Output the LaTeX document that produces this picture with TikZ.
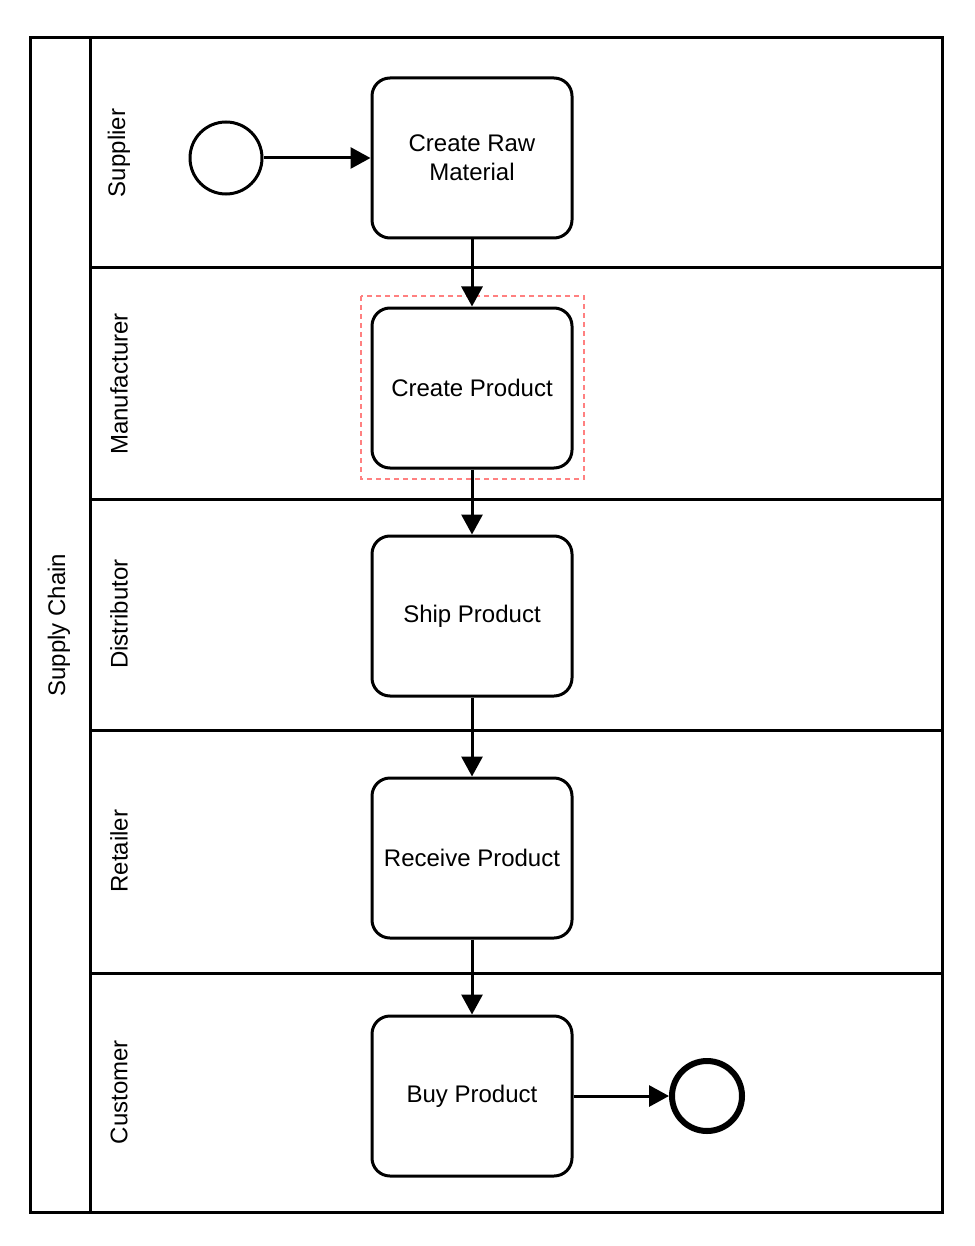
\documentclass[tikz,border=0pt]{standalone}
\usepackage{fontspec}
\setmainfont{Liberation Sans}
\usetikzlibrary{arrows.meta}
\definecolor{selred}{HTML}{FF8080}
\begin{document}
\begin{tikzpicture}[x=1pt,y=-1pt,
  every node/.style={font=\fontsize{24}{29}\selectfont},
  task/.style={draw,line width=3pt,rounded corners=18pt,minimum width=200pt,minimum height=160pt,align=center,inner sep=0pt},
  lanelabel/.style={rotate=90},
  flow/.style={line width=3pt,-{Triangle[length=20pt,width=21pt]}},
  startev/.style={draw,circle,line width=3pt,minimum size=72pt,inner sep=0pt},
  endev/.style={draw,circle,line width=6pt,minimum size=70pt,inner sep=0pt}]
\useasboundingbox (0,0) rectangle (974,1246);
\fill[white] (0,0) rectangle (974,1246);
% pool and lanes
\draw[line width=3pt] (30,38) rectangle (942,1212);
\draw[line width=3pt] (90,38) -- (90,1212);
\draw[line width=3pt] (90,268) -- (942,268);
\draw[line width=3pt] (90,499) -- (942,499);
\draw[line width=3pt] (90,730) -- (942,730);
\draw[line width=3pt] (90,973) -- (942,973);
\node[lanelabel] (pool) at (59,625) {Supply Chain};
\node[lanelabel] (l1) at (119,153) {Supplier};
\node[lanelabel] (l2) at (119,384) {Manufacturer};
\node[lanelabel] (l3) at (119,614) {Distributor};
\node[lanelabel] (l4) at (119,851) {Retailer};
\node[lanelabel] (l5) at (119,1092) {Customer};
% selection box
\draw[selred,line width=1.3pt,dash pattern=on 5pt off 4pt] (361,296) rectangle (584,479);
% tasks
\node[task] (t1) at (472,158) {Create Raw\\Material};
\node[task] (t2) at (472,388) {Create Product};
\node[task] (t3) at (472,616) {Ship Product};
\node[task] (t4) at (472,858) {Receive Product};
\node[task] (t5) at (472,1096) {Buy Product};
\node[startev] (s) at (226,158) {};
\node[endev] (e) at (707,1096) {};
% flows
\draw[flow] (s) -- (t1);
\draw[flow] (t1) -- (t2);
\draw[flow] (t2) -- (t3);
\draw[flow] (t3) -- (t4);
\draw[flow] (t4) -- (t5);
\draw[flow] (t5) -- (e);
\end{tikzpicture}
\end{document}
